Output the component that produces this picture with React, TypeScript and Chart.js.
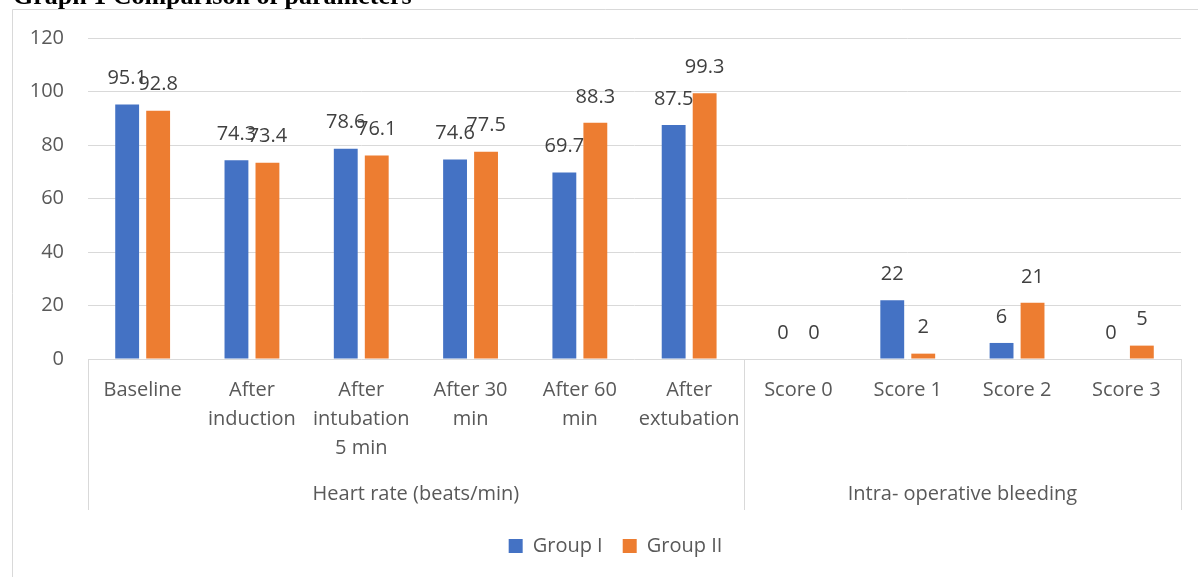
import React, { useEffect, useRef } from "react";
import { Chart, registerables } from "chart.js";

Chart.register(...registerables);

const categories: (string | string[])[] = [
  "Baseline",
  ["After", "induction"],
  ["After", "intubation", "5 min"],
  ["After 30", "min"],
  ["After 60", "min"],
  ["After", "extubation"],
  "Score 0",
  "Score 1",
  "Score 2",
  "Score 3",
];
const groupOne = [95.1, 74.3, 78.6, 74.6, 69.7, 87.5, 0, 22, 6, 0];
const groupTwo = [92.8, 73.4, 76.1, 77.5, 88.3, 99.3, 0, 2, 21, 5];
const seriesNames = ["Group I", "Group II"];
const groupLabels = ["Heart rate (beats/min)", "Intra- operative bleeding"];
const groupSpans = [6, 4];
const yTicks = [0, 20, 40, 60, 80, 100, 120];
const titleText = "Graph 1 Comparison of parameters";

const FONT = "'Open Sans', sans-serif";
const BLUE = "#4472C4";
const ORANGE = "#ED7D31";
const GRID = "#d9d9d9";
const TEXT = "#595959";
const LABEL = "#404040";

const decorPlugin = {
  id: "decor",
  afterLayout(chart: any) {
    if (chart.legend) {
      chart.legend.left += 20;
    }
  },
  afterDatasetsDraw(chart: any) {
    const ctx = chart.ctx;
    ctx.save();
    ctx.font = `20px ${FONT}`;
    ctx.fillStyle = LABEL;
    ctx.textAlign = "center";
    ctx.textBaseline = "middle";
    chart.data.datasets.forEach((ds: any, di: number) => {
      const meta = chart.getDatasetMeta(di);
      meta.data.forEach((bar: any, i: number) => {
        ctx.fillText(String(ds.data[i]), bar.x, bar.y - 26);
      });
    });
    ctx.restore();
  },
  afterDraw(chart: any) {
    const ctx = chart.ctx;
    const xs = chart.scales.x;
    const area = chart.chartArea;
    const half = (xs.getPixelForValue(1) - xs.getPixelForValue(0)) / 2;
    ctx.save();
    // outer frame
    ctx.strokeStyle = GRID;
    ctx.lineWidth = 1;
    ctx.beginPath();
    ctx.moveTo(12.5, chart.height);
    ctx.lineTo(12.5, 9.5);
    ctx.lineTo(chart.width, 9.5);
    ctx.stroke();
    // group separators & labels
    const yTop = area.bottom;
    const yBot = 510;
    let start = 0;
    const bounds: number[] = [area.left];
    groupSpans.forEach((n) => {
      const endIdx = start + n - 1;
      bounds.push(xs.getPixelForValue(endIdx) + half);
      start += n;
    });
    ctx.beginPath();
    bounds.forEach((bx) => {
      const px = Math.round(bx) + 0.5;
      ctx.moveTo(px, yTop);
      ctx.lineTo(px, yBot);
    });
    ctx.stroke();
    ctx.font = `20px ${FONT}`;
    ctx.fillStyle = TEXT;
    ctx.textAlign = "center";
    ctx.textBaseline = "middle";
    groupLabels.forEach((g, i) => {
      ctx.fillText(g, (bounds[i] + bounds[i + 1]) / 2, 494);
    });
    // title
    ctx.font = `bold 26px 'Liberation Serif', serif`;
    ctx.fillStyle = "#000";
    ctx.textAlign = "left";
    ctx.textBaseline = "alphabetic";
    ctx.fillText(titleText, 13, 4);
    ctx.restore();
  },
};

export default function App() {
  const ref = useRef<HTMLCanvasElement | null>(null);
  useEffect(() => {
    if (!ref.current) return;
    const chart = new Chart(ref.current, {
      type: "bar",
      data: {
        labels: categories,
        datasets: [
          {
            label: seriesNames[0],
            data: groupOne,
            backgroundColor: BLUE,
            categoryPercentage: 0.567,
            barPercentage: 0.77,
          },
          {
            label: seriesNames[1],
            data: groupTwo,
            backgroundColor: ORANGE,
            categoryPercentage: 0.567,
            barPercentage: 0.77,
          },
        ],
      },
      options: {
        animation: false,
        responsive: true,
        maintainAspectRatio: false,
        layout: { padding: { left: 30, top: 38, right: 17, bottom: 11 } },
        plugins: {
          legend: {
            position: "bottom",
            labels: {
              boxWidth: 14,
              boxHeight: 14,
              padding: 20,
              color: TEXT,
              font: { family: FONT, size: 20 },
            },
          },
          tooltip: { enabled: false },
        },
        scales: {
          x: {
            grid: { display: false, drawTicks: false },
            border: { display: false },
            ticks: {
              autoSkip: false,
              maxRotation: 0,
              minRotation: 0,
              padding: 17,
              color: TEXT,
              font: { family: FONT, size: 20, lineHeight: 1.45 },
            },
            afterFit: (scale: any) => {
              scale.height = 157;
            },
          },
          y: {
            min: 0,
            max: 120,
            afterBuildTicks: (scale: any) => {
              scale.ticks = yTicks.map((v) => ({ value: v }));
            },
            grid: { color: GRID, lineWidth: 1, drawTicks: false },
            border: { display: false },
            ticks: {
              padding: 24,
              color: TEXT,
              font: { family: FONT, size: 20 },
            },
            afterFit: (scale: any) => {
              scale.width = 58;
            },
          },
        },
      },
      plugins: [decorPlugin],
    });
    return () => chart.destroy();
  }, []);
  return (
    <div style={{ position: "fixed", left: 0, top: 0, width: 1198, height: 577, background: "#fff" }}>
      <canvas ref={ref} />
    </div>
  );
}
